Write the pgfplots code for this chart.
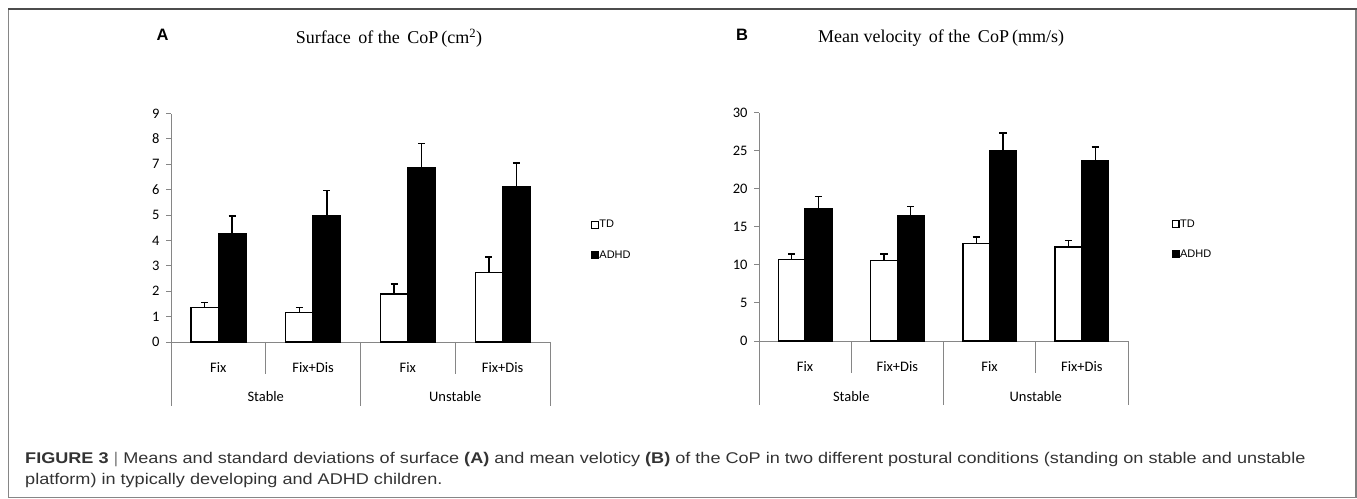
\documentclass[border=0pt]{standalone}
\usepackage{pgfplots}
\pgfplotsset{compat=1.18}
\usepackage{fontspec}
\setmainfont{Liberation Sans}
\newfontfamily\calibri{Carlito}
\newfontfamily\arialf{Liberation Sans}
\newfontfamily\timesf{Liberation Serif}
\definecolor{axgray}{HTML}{868686}
\definecolor{capgray}{HTML}{333333}
\pgfplotsset{
  panel/.style={
    scale only axis,
    axis lines=left,
    axis line style={-, axgray, line width=0.9pt},
    xmin=0, xmax=4,
    xtick={0.5,1.5,2.5,3.5},
    xticklabels={Fix,Fix+Dis,Fix,Fix+Dis},
    xtick style={draw=none},
    xticklabel style={anchor=center, yshift=-21pt, font=\calibri\fontsize{14.5}{16}\selectfont},
    yticklabel style={font=\calibri\fontsize{14.5}{16}\selectfont, xshift=-3pt},
    /pgf/number format/assume math mode=true,
    tick align=outside,
    ytick style={axgray, line width=0.9pt},
    major tick length=5pt,
    ybar, bar width=0.29,
    clip=false,
    legend image code/.code={\draw[#1] (0pt,-3.3pt) rectangle (6.6pt,3.3pt);},
    legend style={draw=none, fill=none, anchor=west, font=\arialf\fontsize{11}{12}\selectfont,
      row sep=20pt, nodes={inner sep=0.6pt}, legend cell align=left},
    error bars/y dir=plus, error bars/y explicit,
    error bars/error bar style={line width=1.4pt, black},
    error bars/error mark options={rotate=90, line width=1.4pt, mark size=3.6pt, black},
  },
  tdbar/.style={fill=white, draw=black, line width=1.3pt, bar shift=-0.145},
  adbar/.style={fill=black, draw=black, line width=1.3pt, bar shift=0.145},
}
\begin{document}
\begin{tikzpicture}
\useasboundingbox (0pt,0pt) rectangle (1357pt,498pt);
% frame
\draw[axgray, line width=1pt] (8pt,0pt) -- (8pt,489pt);
\draw[gray, line width=2pt] (1356pt,0pt) -- (1356pt,489pt);
\draw[black!70, line width=2pt] (8pt,489pt) -- (1357pt,489pt);
\draw[axgray, line width=1pt] (8pt,0.5pt) -- (1356pt,0.5pt);
% titles
\node[font=\arialf\bfseries\fontsize{16.5}{18}\selectfont] at (162.5pt,463pt) {A};
\node[font=\timesf\fontsize{18}{20}\selectfont] at (389pt,460pt) {Surface\, of the\, CoP\,(cm\textsuperscript{2})};
\node[font=\arialf\bfseries\fontsize{16.5}{18}\selectfont] at (742pt,463pt) {B};
\node[font=\timesf\fontsize{18}{20}\selectfont] at (941pt,460pt) {Mean velocity\, of the\, CoP\,(mm/s)};

% Panel A
\begin{axis}[panel, at={(171pt,156pt)}, anchor=south west, width=379pt, height=228.5pt,
  ymin=0, ymax=9, ytick={0,1,...,9},
  legend style={at={(1.0995,0.446)}}]
\addplot[tdbar] coordinates {(0.5,1.35) +- (0,0.20) (1.5,1.15) +- (0,0.20) (2.5,1.89) +- (0,0.39) (3.5,2.73) +- (0,0.62)};
\addlegendentry{TD}
\addplot[adbar] coordinates {(0.5,4.28) +- (0,0.68) (1.5,4.96) +- (0,1.01) (2.5,6.86) +- (0,0.96) (3.5,6.12) +- (0,0.93)};
\addlegendentry{ADHD}
\draw[axgray, line width=0.9pt] (axis cs:0,0) -- ++(0,-64pt);
\draw[axgray, line width=0.9pt] (axis cs:1,0) -- ++(0,-32pt);
\draw[axgray, line width=0.9pt] (axis cs:2,0) -- ++(0,-64pt);
\draw[axgray, line width=0.9pt] (axis cs:3,0) -- ++(0,-32pt);
\draw[axgray, line width=0.9pt] (axis cs:4,0) -- ++(0,-64pt);
\node[font=\calibri\fontsize{14.5}{16}\selectfont] at ([yshift=-55pt]axis cs:1,0) {Stable};
\node[font=\calibri\fontsize{14.5}{16}\selectfont] at ([yshift=-55pt]axis cs:3,0) {Unstable};
\end{axis}

% Panel B
\begin{axis}[panel, at={(759pt,157pt)}, anchor=south west, width=369pt, height=228.4pt,
  ymin=0, ymax=30, ytick={0,5,...,30},
  legend style={at={(1.1095,0.446)}}]
\addplot[tdbar] coordinates {(0.5,10.73) +- (0,0.70) (1.5,10.55) +- (0,0.88) (2.5,12.80) +- (0,0.87) (3.5,12.35) +- (0,0.88)};
\addlegendentry{TD}
\addplot[adbar] coordinates {(0.5,17.39) +- (0,1.61) (1.5,16.40) +- (0,1.30) (2.5,25.00) +- (0,2.30) (3.5,23.74) +- (0,1.76)};
\addlegendentry{ADHD}
\draw[axgray, line width=0.9pt] (axis cs:0,0) -- ++(0,-64pt);
\draw[axgray, line width=0.9pt] (axis cs:1,0) -- ++(0,-32pt);
\draw[axgray, line width=0.9pt] (axis cs:2,0) -- ++(0,-64pt);
\draw[axgray, line width=0.9pt] (axis cs:3,0) -- ++(0,-32pt);
\draw[axgray, line width=0.9pt] (axis cs:4,0) -- ++(0,-64pt);
\node[font=\calibri\fontsize{14.5}{16}\selectfont] at ([yshift=-56pt]axis cs:1,0) {Stable};
\node[font=\calibri\fontsize{14.5}{16}\selectfont] at ([yshift=-56pt]axis cs:3,0) {Unstable};
\end{axis}

% caption
\node[anchor=base west, inner sep=0pt, text=capgray, font=\arialf\fontsize{15.5}{17}\selectfont] at (25pt,34.7pt)
  {\scalebox{1.167}[1]{\textbf{FIGURE 3} {\color{gray}|} Means and standard deviations of surface \textbf{(A)} and mean veloticy \textbf{(B)} of the CoP in two different postural conditions (standing on stable and unstable}};
\node[anchor=base west, inner sep=0pt, text=capgray, font=\arialf\fontsize{15.5}{17}\selectfont] at (25pt,13.7pt)
  {\scalebox{1.167}[1]{platform) in typically developing and ADHD children.}};
\end{tikzpicture}
\end{document}
